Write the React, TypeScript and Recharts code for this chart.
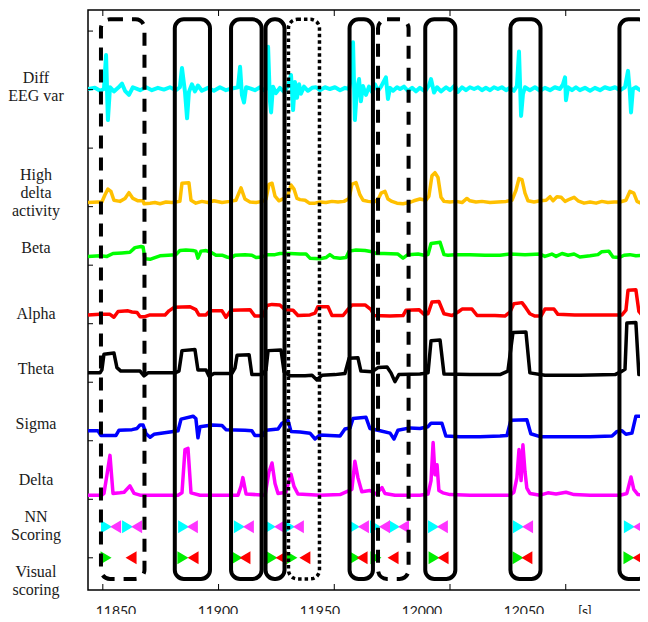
import { ComposedChart, Line, Scatter, XAxis, YAxis, ReferenceArea, ReferenceLine } from 'recharts'

type Pt = [number, number]

// time [s], amplitude above the row baseline (1 unit = 1/10 of a y tick step)
const DIFF_EEG: Pt[] = [
  [11843.6, 0], [11846.6, 0.2], [11848.8, -0.3], [11850.5, 0], [11851.4, 5.8], [11852.2, -5.3],
  [11853.1, 0.3], [11854.8, -0.4], [11856.6, 0.2], [11858.3, 0.9], [11859.6, -0.3], [11861.3, -1.0],
  [11863.0, 0.3], [11866.1, -0.2], [11868.7, 0.3], [11871.2, -0.2], [11873.8, 0.2], [11876.4, -0.1],
  [11879.0, 0.3], [11881.6, -0.2], [11883.3, 0.3], [11884.2, 3.6], [11885.5, -0.5], [11886.4, -5.0],
  [11887.2, -0.5], [11888.5, 0.8], [11889.8, -0.4], [11891.1, 0.6], [11892.8, -0.3], [11895.4, 0.2],
  [11898.0, -0.3], [11900.6, 0.3], [11903.2, -0.2], [11905.8, 0.1], [11908.4, 0.3], [11909.3, 3.8],
  [11910.1, -1.0], [11911.0, -2.3], [11911.9, 0.3], [11913.6, 0.1], [11915.7, -0.2], [11917.9, 0.3],
  [11919.6, -0.2], [11920.5, 0], [11921.4, 7.2], [11922.2, -2.0], [11922.7, -4.0], [11923.5, 0.4],
  [11924.8, -0.7], [11926.5, 0.2], [11928.3, -0.5], [11930.0, 0.5], [11931.3, 2.4], [11932.2, -3.6],
  [11933.0, 1.2], [11933.9, -1.5], [11934.8, 0.8], [11935.6, -0.8], [11936.9, 0.4], [11938.6, -0.3],
  [11940.4, 0.2], [11942.1, 0.3], [11943.8, -0.2], [11946.0, 0.3], [11948.1, 0], [11950.3, 0.3],
  [11952.5, -0.2], [11954.6, 0.2], [11956.4, 0], [11957.2, 2.0], [11958.1, 8.0], [11958.9, -5.3],
  [11959.8, 0], [11960.7, 1.7], [11961.5, -2.1], [11962.4, 0.5], [11963.7, -1.0], [11965.0, 0.4],
  [11966.3, -0.5], [11967.6, 0.8], [11968.9, -0.3], [11970.2, 0.4], [11972.3, 2.0], [11973.2, -1.7],
  [11974.1, 0.2], [11975.4, -0.3], [11977.1, 0.3], [11978.4, 0], [11980.1, 0.4], [11981.8, -0.3],
  [11983.6, 0.2], [11985.3, -0.4], [11987.0, 0.2], [11989.2, -0.4], [11990.9, 0.6], [11991.8, 1.7],
  [11993.1, -0.6], [11994.4, 0.3], [11996.1, -0.4], [11998.3, 0.3], [12000.0, -0.2], [12002.1, 0.6],
  [12003.4, -0.5], [12005.2, 0.3], [12006.9, -0.2], [12008.6, 0.3], [12010.4, 0], [12012.1, 0.3],
  [12013.8, -0.2], [12015.5, 0.2], [12017.3, -0.2], [12019.0, 0.3], [12020.7, 0], [12022.4, 0.3],
  [12024.2, -0.2], [12025.9, 0.2], [12027.6, -0.3], [12028.9, 0.5], [12029.8, 6.4], [12030.7, -4.6],
  [12031.5, -0.9], [12032.4, 0.3], [12034.5, -0.2], [12036.7, 0.3], [12038.9, -0.3], [12041.0, 0.2],
  [12043.2, -0.2], [12045.3, 0.3], [12047.5, 0], [12048.8, 0.8], [12049.7, 2.0], [12050.1, -1.9],
  [12051.0, 0.3], [12052.7, -0.2], [12054.4, 0.3], [12056.1, -0.2], [12058.3, 0.2], [12060.5, -0.3],
  [12062.6, 0.2], [12064.8, -0.2], [12066.9, 0.3], [12069.1, 0], [12071.3, 0.3], [12073.4, -0.2],
  [12075.6, 0.3], [12076.9, 3.1], [12077.7, -0.5], [12078.2, -4.0], [12079.0, 0], [12080.3, 0.3],
  [12082.1, -0.2], [12084.2, 0.3], [12086.4, 0],
]

const HIGH_DELTA: Pt[] = [
  [11843.6, -0.1], [11847.9, 0], [11849.6, 0], [11850.9, 1.2], [11852.2, 2.2], [11853.5, 1.8],
  [11854.8, 0.3], [11857.4, 0.1], [11859.6, 0.6], [11861.3, 1.6], [11863.0, 0.6], [11865.2, 0.2],
  [11867.4, 0.2], [11867.8, -0.3], [11870.4, -0.2], [11872.5, -0.1], [11874.7, -0.3], [11877.3, 0],
  [11879.9, -0.1], [11883.3, 0.1], [11884.2, 3.2], [11887.2, 3.3], [11888.1, 0.3], [11890.2, -0.2],
  [11892.8, 0.1], [11895.4, -0.1], [11898.0, 0.2], [11901.5, -0.1], [11904.9, 0.1], [11907.5, 0.3],
  [11909.7, 2.4], [11911.4, 0.5], [11913.6, 0], [11916.2, -0.1], [11918.8, 0.1], [11920.5, 0.5],
  [11921.8, 3.0], [11923.1, 3.2], [11924.4, 1.0], [11926.1, 0.2], [11928.3, 0.6], [11930.0, 1.2],
  [11931.3, 2.9], [11932.6, 2.2], [11933.9, 0.6], [11935.2, 0.4], [11937.4, 0.3], [11939.2, -0.2],
  [11941.7, -0.2], [11943.8, 0], [11946.4, -0.1], [11949.0, 0.1], [11951.6, 0], [11954.2, 0.1],
  [11956.4, 0.6], [11957.6, 3.0], [11959.4, 3.3], [11961.1, 1.2], [11962.4, 0.3], [11964.6, 0.1],
  [11967.2, 0], [11968.9, 0.4], [11970.2, 1.5], [11971.9, 1.8], [11973.2, 0.5], [11974.9, 0.1],
  [11977.1, -0.2], [11979.7, -0.3], [11982.3, -0.1], [11984.4, 0.2], [11987.0, 0.5], [11989.6, 0.3],
  [11990.9, 1.0], [11992.2, 4.5], [11993.5, 5.0], [11994.8, 4.2], [11996.1, 0.8], [11997.4, 0.1],
  [12000.0, 0], [12002.6, 0.1], [12005.2, -0.1], [12007.3, 0.6], [12008.6, 0.2], [12011.2, 0],
  [12013.8, 0.1], [12017.3, -0.1], [12020.7, 0], [12024.2, 0.1], [12026.8, 0.3], [12028.5, 2.0],
  [12029.8, 4.0], [12031.1, 3.8], [12032.4, 1.5], [12033.7, 0.2], [12036.3, 0], [12038.9, 0.2],
  [12041.5, 0.3], [12043.2, 0.9], [12044.5, 0.2], [12046.2, 0.9], [12048.0, 0.8], [12049.7, 0.1],
  [12051.8, 0.5], [12053.6, 0.8], [12055.3, 0.2], [12057.9, -0.2], [12060.5, 0], [12063.1, -0.2],
  [12065.6, 0.1], [12068.2, -0.1], [12070.8, 0], [12073.4, 0], [12076.0, 0.3], [12077.7, 1.8],
  [12079.4, 1.5], [12080.8, 0.1], [12082.9, -0.3], [12086.4, -0.2],
]

const BETA: Pt[] = [
  [11843.6, -0.1], [11848.8, 0], [11851.8, -0.1], [11854.4, 0.4], [11858.3, 0.5], [11861.7, 0.6],
  [11863.9, 1.4], [11866.5, 1.6], [11867.4, 1.5], [11868.2, -0.5], [11870.4, -0.6], [11872.5, -0.3],
  [11874.7, 0], [11878.2, 0.1], [11881.6, 0.2], [11883.3, 0.9], [11885.9, 1.0], [11888.9, 0.9],
  [11890.2, 0.8], [11891.1, -0.4], [11892.4, 0.8], [11894.6, 0.9], [11896.7, 0.6], [11898.9, 0.1],
  [11901.5, 0.1], [11903.6, -0.2], [11905.4, -0.4], [11907.1, 0.1], [11911.4, 0.2], [11914.4, 0.1],
  [11916.2, -0.3], [11918.8, -0.2], [11921.1, 0.2], [11924.4, 0.2], [11926.5, 0.4], [11930.9, 0.4],
  [11935.2, 0.3], [11937.8, 0.3], [11939.5, -0.4], [11943.8, -0.5], [11946.4, -0.3], [11948.1, 0.2],
  [11949.9, -0.3], [11952.5, -0.4], [11955.1, -0.3], [11956.4, 0.8], [11959.4, 1.0], [11963.3, 0.9],
  [11966.3, 0.7], [11968.0, 0.4], [11971.5, 0.4], [11977.5, 0.3], [11979.7, -0.4], [11981.8, 0.2],
  [11986.2, 0.3], [11988.8, 0.1], [11990.5, 0.2], [11991.8, 2.1], [11995.7, 2.3], [11997.4, 0.2],
  [11999.1, 0.1], [12002.1, 0.2], [12008.6, 0.2], [12015.1, 0.1], [12021.6, 0.1], [12025.9, 0.3],
  [12032.4, 0.2], [12038.9, 0.3], [12041.0, -0.1], [12044.0, 0.3], [12045.8, -0.1], [12048.4, 0.4],
  [12051.0, 0.1], [12053.6, 0.3], [12056.1, -0.2], [12060.5, 0], [12063.9, 0.2], [12065.6, 0.7],
  [12068.6, 0.8], [12070.4, -0.2], [12073.0, -0.3], [12075.2, 0.1], [12077.7, 0.2], [12080.3, 0],
  [12084.2, 0.1], [12086.4, 0.1],
]

const ALPHA: Pt[] = [
  [11843.6, 0], [11848.8, 0.1], [11853.1, 0.1], [11854.8, -0.4], [11856.6, 0.6], [11860.9, 0.7],
  [11862.6, 0.5], [11864.8, 0.4], [11866.1, -0.3], [11868.2, -0.3], [11870.4, 0], [11876.9, 0],
  [11878.6, 0.7], [11880.8, 1.3], [11887.7, 1.4], [11890.2, 0.9], [11891.5, 0], [11894.5, 0],
  [11896.3, 0.7], [11901.5, 0.7], [11903.2, -0.4], [11905.4, 0.8], [11913.6, 0.9], [11915.7, -0.2],
  [11919.2, -0.2], [11920.9, 1.6], [11923.1, 1.8], [11926.5, 1.7], [11928.7, 0.9], [11932.2, 0.8],
  [11934.3, -0.1], [11939.5, 0], [11941.7, 0.3], [11942.9, 1.4], [11947.3, 1.4], [11949.0, -0.1],
  [11953.8, -0.1], [11956.0, 1.0], [11957.6, 1.7], [11963.3, 1.7], [11965.9, 0.9], [11967.2, -0.1],
  [11974.1, -0.2], [11979.7, -0.1], [11981.0, 0.8], [11986.6, 0.9], [11988.8, 0.1], [11990.5, 0.2],
  [11992.2, 2.2], [11995.2, 2.3], [11997.4, 0.2], [12000.9, -0.1], [12003.5, 0.5], [12005.2, 1.0],
  [12009.5, 1.0], [12011.7, -0.1], [12019.4, -0.1], [12023.7, -0.2], [12025.9, 0.5], [12027.6, 1.9],
  [12031.1, 2.1], [12032.8, 1.2], [12034.5, 0.2], [12036.7, -0.2], [12039.3, -0.2], [12041.0, 1.0],
  [12044.9, 1.0], [12046.6, 0.1], [12053.9, 0], [12060.5, 0], [12069.1, 0], [12074.3, 0],
  [12076.0, 0.8], [12076.9, 4.2], [12080.3, 4.3], [12081.6, 0.6], [12082.9, 0], [12086.4, 0],
]

const THETA: Pt[] = [
  [11843.6, 0], [11848.8, 0], [11849.6, 0.5], [11850.5, 3.2], [11854.8, 3.4], [11856.1, 0.9],
  [11857.8, 0.3], [11866.1, 0.3], [11867.8, -0.5], [11869.5, 0], [11881.2, 0], [11882.9, 0.3],
  [11884.2, 3.8], [11889.8, 4.0], [11891.1, 0.5], [11894.6, 0.5], [11895.9, -0.6], [11898.0, -0.1],
  [11905.8, -0.1], [11907.1, 0.8], [11908.0, 3.0], [11913.2, 3.1], [11914.4, -0.3], [11918.8, -0.3],
  [11920.5, 0.5], [11921.4, 3.8], [11927.0, 3.9], [11928.3, 0.2], [11930.9, -0.5], [11937.4, -0.5],
  [11940.4, -0.4], [11942.5, -1.2], [11944.7, -0.4], [11950.3, -0.3], [11954.6, -0.1], [11956.4, 2.5],
  [11960.2, 2.6], [11961.5, 0.3], [11966.3, 0.2], [11968.9, 0.9], [11972.8, 1.0], [11974.5, 0],
  [11976.2, -1.5], [11977.9, -0.3], [11987.0, -0.2], [11990.5, 0], [11991.8, 5.5], [11995.7, 5.6],
  [11997.4, -0.2], [12008.6, -0.3], [12021.6, -0.3], [12025.0, 0.3], [12027.2, 6.9], [12032.8, 7.0],
  [12034.5, 0], [12041.0, -0.4], [12056.1, -0.4], [12071.3, -0.3], [12073.9, 0.2], [12075.6, 0.6],
  [12076.4, 8.5], [12080.3, 8.6], [12081.6, -0.3], [12086.4, -0.3],
]

const SIGMA: Pt[] = [
  [11843.6, 0.5], [11847.9, 0.5], [11849.2, -0.3], [11855.7, -0.3], [11857.0, 0.6], [11862.6, 0.7],
  [11864.8, 0.9], [11866.1, 1.5], [11867.4, 1.5], [11868.7, 0], [11870.4, -0.6], [11872.1, -0.1],
  [11879.0, 0.3], [11882.5, 0.5], [11883.8, 2.5], [11889.0, 3.0], [11890.2, 2.6], [11891.1, -0.7],
  [11892.0, 1.2], [11897.2, 1.5], [11901.5, 1.4], [11903.2, 0.7], [11911.4, 0.6], [11914.4, 0.5],
  [11915.7, -0.3], [11919.2, -0.3], [11920.5, 0.6], [11925.7, 0.8], [11927.4, 1.8], [11930.0, 2.3],
  [11931.3, 0.4], [11935.2, 0.3], [11939.5, 0.1], [11941.7, -0.9], [11943.8, -0.2], [11948.1, -0.3],
  [11952.5, -0.4], [11954.6, 0.8], [11956.8, 1.0], [11958.1, 2.6], [11963.7, 2.8], [11965.4, 0.9],
  [11969.8, 0.5], [11974.1, 0.1], [11975.8, -0.9], [11977.5, 0.6], [11982.7, 1.0], [11987.0, 0.9],
  [11990.5, 1.2], [11991.8, 1.8], [11996.5, 1.8], [11998.2, -0.4], [12004.3, -0.5], [12012.9, -0.5],
  [12021.6, -0.4], [12024.6, -0.3], [12026.3, 2.3], [12033.2, 2.4], [12034.9, 0], [12038.9, -0.5],
  [12047.5, -0.5], [12060.5, -0.5], [12070.0, -0.4], [12072.2, 0.4], [12074.3, 0.5], [12076.0, -0.1],
  [12078.6, 0.1], [12080.3, 3.0], [12086.4, 3.0],
]

const DELTA: Pt[] = [
  [11843.6, 0], [11849.6, 0], [11850.5, 0.3], [11851.8, 3.5], [11853.1, 6.8], [11854.4, 0.3],
  [11857.4, 0.4], [11859.2, 0.5], [11861.7, 1.6], [11863.5, 0.3], [11866.1, 0], [11882.5, 0],
  [11884.2, 0.4], [11885.5, 7.8], [11886.8, 8.0], [11888.1, 0.4], [11892.0, 0], [11908.4, 0],
  [11909.7, 1.5], [11910.5, 3.0], [11911.9, 0.2], [11920.1, 0], [11921.8, 4.0], [11923.1, 5.5],
  [11924.4, 2.0], [11925.7, 0.3], [11929.1, 0.5], [11931.3, 3.6], [11932.6, 1.5], [11934.3, 0.2],
  [11943.8, 0], [11952.5, 0.1], [11957.6, 1.0], [11958.9, 5.8], [11960.2, 3.0], [11961.9, 0.6],
  [11965.4, 0.8], [11968.0, 0.2], [11970.6, 1.3], [11971.9, 0.3], [11976.2, 0], [11987.0, 0],
  [11990.5, 0.2], [11991.8, 2.5], [11992.7, 9.0], [11993.5, 3.5], [11994.4, 5.2], [11995.2, 0.8],
  [11996.9, 0.4], [12000.0, 0.1], [12008.6, 0], [12025.9, 0], [12027.6, 0.5], [12028.9, 3.0],
  [12029.8, 7.8], [12030.7, 2.5], [12031.5, 8.6], [12032.4, 4.0], [12033.2, 1.2], [12034.5, 0.3],
  [12038.9, 0], [12042.3, 0.4], [12045.8, 0.2], [12050.1, 0.5], [12053.6, 0.1], [12060.5, 0],
  [12073.4, 0], [12076.4, 0.3], [12078.2, 3.1], [12079.4, 1.0], [12081.2, 0.1], [12086.4, 0],
]

// scoring marks (time of each triangle)
const NN_WAKE = [11851.6, 11860.7, 11884.9, 11909.0, 11922.4, 11930.7, 11958.7, 11967.8, 11976.0, 11992.9, 12029.6, 12077.5]
const NN_DELTA = [11855.5, 11864.6, 11888.7, 11912.9, 11926.3, 11934.5, 11962.6, 11971.7, 11979.9, 11996.7, 12033.5, 12081.4]
const VIS_BETA = [11851.4, 11884.6, 11908.0, 11923.1, 11931.7, 11958.9, 11968.0, 11993.1, 12029.4, 12077.3]
const VIS_ALPHA = [11862.2, 11889.0, 11911.4, 11927.0, 11937.3, 11962.0, 11975.4, 11997.0, 12033.2, 12081.2]

// marked epochs: [start, end, kind]
const EPOCHS: [number, number, 'hit' | 'miss' | 'none'][] = [
  [11849.2, 11868.0, 'miss'],
  [11881.1, 11896.3, 'hit'],
  [11905.4, 11918.6, 'hit'],
  [11920.3, 11928.5, 'hit'],
  [11930.2, 11943.6, 'none'],
  [11956.6, 11966.7, 'hit'],
  [11968.9, 11982.1, 'miss'],
  [11989.3, 12002.3, 'hit'],
  [12026.1, 12039.1, 'hit'],
  [12073.2, 12085.3, 'hit'],
]

const X_TICKS = [11850, 11900, 11950, 12000, 12050]
const X_LABELS = [11850, 11900, 11950, 12000, 12050]
const Y_TICKS = [0, 10, 20, 30, 40, 50, 60, 70, 80, 90]

const ROW_BASE = { diff: 80.1, high: 60.8, beta: 51.6, alpha: 41.5, theta: 31.6, sigma: 21.2, delta: 10.7, nn: 5.3, vis: 0 }
const ROW_NAMES = [
  { lines: ['Diff', 'EEG var'], top: 69 },
  { lines: ['High', 'delta', 'activity'], top: 166 },
  { lines: ['Beta'], top: 239 },
  { lines: ['Alpha'], top: 305 },
  { lines: ['Theta'], top: 360 },
  { lines: ['Sigma'], top: 415 },
  { lines: ['Delta'], top: 471 },
  { lines: ['NN', 'Scoring'], top: 508 },
  { lines: ['Visual', 'scoring'], top: 563 },
]

const X_DOMAIN: [number, number] = [11843.6, 12086.4]
const LABEL_DOMAIN: [number, number] = [11836.3, 12111.8]
const Y_DOMAIN: [number, number] = [-5.5, 93.6]

const trace = (pts: Pt[], base: number) => pts.map(([t, a]) => ({ t, v: base + a }))
const marks = (ts: number[], base: number) => ts.map((t) => ({ t, v: base }))
const axisData = X_LABELS.map((t) => ({ t }))

const triangle = (dir: 1 | -1, color: string) => (p: any) => {
  const { cx, cy } = p
  const w = 5.5
  const h = 6.5
  const pts =
    dir === 1
      ? `${cx - w},${cy - h} ${cx + w},${cy} ${cx - w},${cy + h}`
      : `${cx + w},${cy - h} ${cx - w},${cy} ${cx + w},${cy + h}`
  return <polygon points={pts} fill={color} />
}

const epochShape = (kind: string) => (p: any) => (
  <rect
    x={p.x}
    y={p.y}
    width={p.width}
    height={p.height}
    rx={9}
    fill="none"
    stroke="#000"
    strokeWidth={kind === 'none' ? 3.5 : 4}
    strokeDasharray={kind === 'miss' ? '13 9' : kind === 'none' ? '3.5 3' : undefined}
  />
)

const frameShape = (p: any) => (
  <rect x={p.x} y={p.y} width={p.width} height={p.height} fill="none" stroke="#000" strokeWidth={1.5} />
)

// inward tick stubs at both ends of a vertical reference line
const xTickShape = (p: any) => {
  const top = Math.min(p.y1, p.y2)
  const bottom = Math.max(p.y1, p.y2)
  return (
    <g>
      <line x1={p.x1} x2={p.x1} y1={top} y2={top + 6} stroke="#000" strokeWidth={1} />
      <line x1={p.x1} x2={p.x1} y1={bottom} y2={bottom - 6} stroke="#000" strokeWidth={1} />
    </g>
  )
}

// inward tick stub on the right end of a horizontal reference line
const yTickShape = (p: any) => {
  const right = Math.max(p.x1, p.x2)
  return <line x1={right} x2={right - 5} y1={p.y1} y2={p.y1} stroke="#000" strokeWidth={1} />
}

const tickRight = (p: any) => <line x1={p.x} x2={p.x + 5} y1={p.y} y2={p.y} stroke="#000" strokeWidth={1} />

const SERIES = [
  { key: 'diff', pts: DIFF_EEG, color: '#00ffff', w: 4 },
  { key: 'high', pts: HIGH_DELTA, color: '#ffc000', w: 3.5 },
  { key: 'beta', pts: BETA, color: '#00ff00', w: 3.5 },
  { key: 'alpha', pts: ALPHA, color: '#ff0000', w: 3.5 },
  { key: 'theta', pts: THETA, color: '#000000', w: 3.5 },
  { key: 'sigma', pts: SIGMA, color: '#0000ff', w: 3.5 },
  { key: 'delta', pts: DELTA, color: '#ff00ff', w: 3.5 },
] as const

const labelTick = { fontFamily: 'Lato', fontSize: 14, fill: '#222' }

export default function App() {
  return (
    <div style={{ position: 'relative', margin: -8, width: 648, height: 622, overflow: 'hidden', background: '#fff' }}>
      <ComposedChart width={660} height={622} data={axisData} margin={{ top: 10, right: 10, bottom: 0, left: 0 }}>
        <XAxis xAxisId="main" dataKey="t" type="number" domain={X_DOMAIN} allowDataOverflow hide />
        <XAxis
          xAxisId="lab"
          dataKey="t"
          type="number"
          domain={LABEL_DOMAIN}
          allowDataOverflow
          ticks={X_LABELS}
          interval={0}
          height={32}
          tickSize={0}
          tickMargin={16}
          tickLine={false}
          axisLine={false}
          tick={labelTick}
        />
        <YAxis
          yAxisId="main"
          type="number"
          domain={Y_DOMAIN}
          allowDataOverflow
          ticks={Y_TICKS}
          interval={0}
          width={88}
          tickSize={0}
          tickMargin={0}
          tickLine={false}
          tick={tickRight}
          axisLine={false}
        />

        <ReferenceArea
          xAxisId="main"
          yAxisId="main"
          x1={X_DOMAIN[0]}
          x2={X_DOMAIN[1]}
          y1={Y_DOMAIN[0]}
          y2={Y_DOMAIN[1]}
          ifOverflow="visible"
          shape={frameShape}
        />
        {X_TICKS.map((t) => (
          <ReferenceLine key={`xt${t}`} xAxisId="main" yAxisId="main" x={t} shape={xTickShape} />
        ))}
        {Y_TICKS.map((v) => (
          <ReferenceLine key={`yt${v}`} xAxisId="main" yAxisId="main" y={v} shape={yTickShape} />
        ))}

        {SERIES.map((s) => (
          <Line
            key={s.key}
            xAxisId="main"
            yAxisId="main"
            data={trace(s.pts as Pt[], ROW_BASE[s.key])}
            dataKey="v"
            type="linear"
            stroke={s.color}
            strokeWidth={s.w}
            strokeLinejoin="round"
            dot={false}
            activeDot={false}
            isAnimationActive={false}
          />
        ))}

        <Scatter xAxisId="main" yAxisId="main" data={marks(NN_WAKE, ROW_BASE.nn)} dataKey="v" shape={triangle(1, '#00ffff')} isAnimationActive={false} />
        <Scatter xAxisId="main" yAxisId="main" data={marks(NN_DELTA, ROW_BASE.nn)} dataKey="v" shape={triangle(-1, '#ff33ff')} isAnimationActive={false} />
        <Scatter xAxisId="main" yAxisId="main" data={marks(VIS_BETA, ROW_BASE.vis)} dataKey="v" shape={triangle(1, '#00ee00')} isAnimationActive={false} />
        <Scatter xAxisId="main" yAxisId="main" data={marks(VIS_ALPHA, ROW_BASE.vis)} dataKey="v" shape={triangle(-1, '#ff0000')} isAnimationActive={false} />

        {EPOCHS.map(([a, b, kind], i) => (
          <ReferenceArea
            key={i}
            xAxisId="main"
            yAxisId="main"
            x1={a}
            x2={b}
            y1={-3.6}
            y2={92.0}
            ifOverflow="visible"
            zIndex={1000}
            shape={epochShape(kind)}
          />
        ))}
      </ComposedChart>

      {ROW_NAMES.map((r) => (
        <div
          key={r.lines.join(' ')}
          style={{
            position: 'absolute',
            left: 0,
            top: r.top,
            width: 72,
            textAlign: 'center',
            fontFamily: '"Liberation Serif", serif',
            fontSize: 16,
            lineHeight: '18px',
            color: '#1a1a1a',
          }}
        >
          {r.lines.map((l) => (
            <div key={l}>{l}</div>
          ))}
        </div>
      ))}
      <div
        style={{
          position: 'absolute',
          left: 570,
          top: 603,
          width: 30,
          textAlign: 'center',
          fontFamily: 'Lato',
          fontSize: 14,
          lineHeight: '16px',
          color: '#222',
        }}
      >
        [s]
      </div>
    </div>
  )
}
